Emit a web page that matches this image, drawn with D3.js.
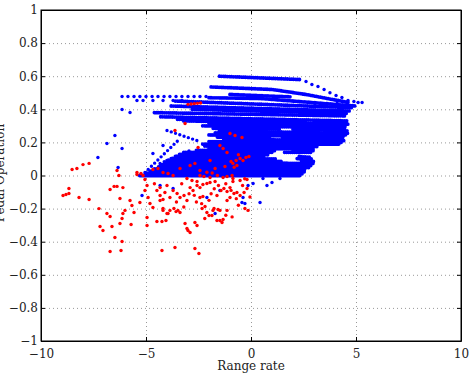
<!DOCTYPE html>
<html>
<head>
<meta charset="utf-8">
<script src="https://cdn.jsdelivr.net/npm/d3@7"></script>
<style>
body { margin: 0; background: #fff; }
text { font-family: "DejaVu Serif", "Liberation Serif", serif; fill: #222; }
</style>
</head>
<body>
<div class="canva"></div>
<script>
const xTicks = [-10, -5, 0, 5, 10]
const yTicks = [-1, -0.8, -0.6, -0.4, -0.2, 0, 0.2, 0.4, 0.6, 0.8, 1]

// dense blue runs (point trails that merge together)
const denseStreaks = [
  [[-1.5, 0.60], [2.33, 0.58]],
  [[-1.9, 0.535], [1.0, 0.52], [2.6, 0.49], [4.7, 0.44]],
  [[-1.0, 0.49], [1.9, 0.475]],
  [[-2.0, 0.47], [0.5, 0.465], [3.0, 0.44], [5.0, 0.42]],
  [[-3.6, 0.45], [4.8, 0.41]],
  [[-3.8, 0.42], [4.7, 0.39]],
  [[-2.8, 0.40], [4.6, 0.375]],
  [[-4.6, 0.38], [4.5, 0.36]],
  [[-4.3, 0.355], [4.6, 0.33]],
  [[-3.5, 0.34], [2.6, 0.325]],
  [[3.1, 0.325], [4.6, 0.32]],
  [[-3.2, 0.33], [4.7, 0.31]],
  [[-2.0, 0.315], [4.5, 0.30]],
  [[-2.3, 0.30], [4.5, 0.29]],
  [[-1.8, 0.285], [1.4, 0.28]],
  [[2.0, 0.28], [4.6, 0.27]],
  [[-1.5, 0.27], [4.6, 0.255]],
  [[-1.7, 0.258], [4.5, 0.245]],
  [[-2.0, 0.245], [4.4, 0.235]],
  [[-1.6, 0.232], [0.9, 0.228]],
  [[1.5, 0.228], [4.4, 0.222]],
  [[-1.3, 0.22], [4.5, 0.21]],
  [[-2.0, 0.205], [4.3, 0.20]],
  [[-2.3, 0.19], [4.2, 0.19]],
  [[-2.2, 0.178], [3.2, 0.175]],
  [[-2.0, 0.165], [3.0, 0.16]],
  [[-2.6, 0.152], [1.2, 0.15]],
  [[2.0, 0.152], [3.0, 0.15]],
  [[-3.2, 0.14], [1.0, 0.14]],
  [[1.6, 0.14], [2.9, 0.14]],
  [[-3.4, 0.128], [0.8, 0.125]],
  [[-3.6, 0.115], [0.6, 0.11]],
  [[2.3, 0.115], [2.8, 0.11]],
  [[-3.8, 0.102], [1.2, 0.10]],
  [[2.2, 0.102], [2.9, 0.10]],
  [[-4.0, 0.09], [1.5, 0.085]],
  [[2.4, 0.09], [3.0, 0.085]],
  [[-4.1, 0.078], [3.0, 0.073]],
  [[-4.3, 0.065], [2.9, 0.06]],
  [[-4.4, 0.052], [2.8, 0.048]],
  [[-4.6, 0.04], [2.6, 0.035]],
  [[-4.8, 0.027], [2.6, 0.022]],
  [[-5.0, 0.015], [2.5, 0.01]],
  [[-5.3, 0.0], [2.4, 0.0]]
]

// loose blue runs (separate dots still visible)
const looseStreaks = [
  [[-4.0, 0.272], [-2.43, 0.205]],
  [[-5.05, 0.018], [-3.48, 0.211]],
  [[-4.33, 0.073], [-2.9, 0.151]]
]

const bluePoints = [
  [-6.14, 0.477], [-5.86, 0.477], [-5.57, 0.477], [-5.29, 0.477], [-5.0, 0.477],
  [-4.71, 0.477], [-4.43, 0.477], [-4.14, 0.477], [-3.86, 0.477], [-3.57, 0.477],
  [-3.29, 0.477], [-3.0, 0.477], [-2.71, 0.477], [-2.43, 0.477], [-2.14, 0.477],
  [-5.43, 0.453], [-5.14, 0.453], [-4.67, 0.453], [-4.19, 0.453], [-3.71, 0.453], [-3.29, 0.453],
  [2.62, 0.568], [2.9, 0.55], [3.19, 0.538], [3.48, 0.52], [3.76, 0.50], [4.05, 0.483],
  [4.33, 0.471], [4.62, 0.453], [4.9, 0.447], [5.1, 0.441], [5.29, 0.441],
  [3.05, 0.435], [3.62, 0.435], [4.1, 0.435],
  [-6.48, 0.242], [-6.86, 0.193], [-7.29, 0.109], [-6.33, 0.048], [-6.14, 0.163],
  [-4.67, 0.133], [-4.19, 0.181], [-6.14, 0.399], [-5.76, 0.381],
  [-5.19, -0.121], [-4.33, -0.06], [-3.71, -0.079], [-2.1, -0.133], [-1.71, -0.23],
  [-1.48, -0.091], [-0.38, -0.133], [-0.43, -0.163], [-0.29, -0.169], [-0.14, -0.06],
  [0.1, -0.048], [0.43, -0.163], [0.76, -0.06], [1.0, -0.042], [0.57, -0.018], [1.38, -0.018]
]

const redPoints = [
  [-8.52, 0.036], [-8.29, 0.042], [-8.0, 0.066], [-7.71, 0.073], [-8.95, -0.121],
  [-8.81, -0.115], [-8.67, -0.109], [-8.67, -0.079], [-8.19, -0.133], [-7.71, -0.145],
  [-7.24, -0.2], [-6.86, -0.23], [-6.71, -0.248], [-7.19, -0.308], [-7.05, -0.332],
  [-6.62, -0.308], [-6.48, -0.375], [-6.14, -0.399], [-6.71, -0.459], [-6.19, -0.453],
  [-6.71, -0.085], [-6.52, -0.066], [-6.38, -0.066], [-6.1, -0.073], [-6.29, 0.0],
  [-6.38, 0.03], [-6.24, -0.139], [-5.76, -0.151], [-5.67, -0.181], [-6.0, -0.211],
  [-6.1, -0.23], [-6.14, -0.26], [-6.24, -0.29], [-5.71, -0.296], [-5.57, -0.224],
  [-5.43, 0.018], [-5.24, 0.012], [-5.05, -0.024], [-4.95, -0.06], [-5.29, -0.163],
  [-5.05, -0.091], [-4.9, -0.133], [-4.81, -0.169], [-4.67, -0.193], [-4.95, -0.254],
  [-4.95, -0.302], [-4.48, -0.091], [-4.33, -0.121], [-4.19, -0.145], [-4.33, -0.151],
  [-4.19, -0.199], [-4.0, -0.23], [-4.48, -0.278], [-4.24, -0.278], [-4.05, -0.272],
  [-4.24, -0.453], [-3.86, -0.211], [-3.67, -0.199], [-3.48, -0.211], [-3.62, -0.435],
  [-3.71, -0.091], [-3.52, -0.109], [-3.38, -0.133], [-3.19, -0.121], [-3.05, -0.151],
  [-2.9, -0.073], [-2.76, -0.091], [-2.57, -0.06], [-2.43, -0.073], [-2.29, -0.054],
  [-2.1, -0.048], [-1.95, -0.042], [-3.05, -0.32], [-2.9, -0.344], [-2.67, -0.284],
  [-2.57, -0.302], [-2.67, -0.441], [-2.48, -0.471], [-2.33, -0.199], [-2.19, -0.187],
  [-2.1, -0.224], [-2.0, -0.242], [-1.86, -0.242], [-1.76, -0.199], [-1.57, -0.205],
  [-1.48, -0.272], [-1.33, -0.266], [-2.43, -0.133], [-2.29, -0.127], [-1.62, -0.121],
  [-1.43, -0.091], [-1.29, -0.079], [-1.14, -0.097], [-1.0, -0.073], [-1.14, -0.151],
  [-1.0, -0.133], [-0.81, -0.109], [-0.67, -0.103], [-0.52, -0.121], [-0.33, -0.103],
  [-0.19, -0.079], [-0.29, -0.199], [-0.14, -0.211], [-1.33, -0.012], [-1.14, -0.006],
  [-0.86, -0.018], [-0.52, -0.03], [-0.19, -0.024], [-2.43, 0.0], [-2.24, -0.006],
  [-1.95, -0.012], [-3.05, -0.018], [-2.81, -0.03], [-2.57, -0.036], [-1.71, -0.036],
  [-0.86, -0.036], [-4.33, -0.073], [-4.1, -0.103], [-3.86, -0.133], [-4.19, -0.211],
  [-3.95, -0.23], [-3.57, -0.218], [-3.38, -0.224], [-3.14, -0.29], [-3.0, -0.332],
  [-1.81, -0.211], [-1.48, -0.211], [-1.14, -0.211], [-1.62, -0.272], [-1.38, -0.284],
  [-2.95, -0.11], [-2.7, -0.12], [-2.6, -0.16], [-2.35, -0.17], [-2.0, -0.15],
  [-1.9, -0.11], [-1.75, -0.08], [-1.55, -0.06], [-1.2, -0.05], [-0.95, -0.09],
  [-0.7, -0.14], [-0.6, -0.18], [-0.4, -0.06], [-0.05, -0.13], [-1.2, -0.24],
  [-0.9, -0.25], [-2.2, -0.26], [-3.3, -0.05], [-3.55, -0.16], [-3.2, -0.19],
  [-4.6, -0.05], [-4.0, -0.06], [-0.3, -0.02], [-0.9, 0.0], [-1.6, 0.0],
  [-3.62, 0.272], [-3.14, 0.314], [-5.43, 0.006], [-5.14, 0.0], [-4.67, 0.036],
  [-4.43, 0.042], [-4.19, 0.018], [-3.95, 0.012], [-3.71, 0.0], [-2.9, 0.06],
  [-2.67, 0.073], [-2.43, 0.03], [-1.95, 0.091], [-2.52, 0.169], [-1.48, 0.181],
  [-1.33, 0.163], [-1.14, 0.139], [-1.0, 0.254], [-0.76, 0.242], [-0.43, 0.23],
  [-0.86, 0.073], [-0.71, 0.091], [-0.52, 0.103], [-0.38, 0.091], [-0.24, 0.109],
  [-0.1, 0.115], [-0.67, 0.06], [-3.38, 0.042], [-1.71, 0.042], [-1.24, 0.054],
  [-0.95, 0.085], [-0.6, 0.125], [-0.8, 0.05], [-2.1, 0.02], [-1.85, 0.015],
  [-3.0, 0.43], [-2.85, 0.432], [-2.7, 0.434], [-2.55, 0.436], [-2.4, 0.438]
]

const canvas = d3.select('.canva')
const svg = canvas.append('svg').attr('width', 469).attr('height', 378)

const x = d3.scaleLinear().domain([-10, 10]).range([41, 461])
const y = d3.scaleLinear().domain([-1, 1]).range([341, 10])
const fmt = d => String(+d.toFixed(1)).replace('-', '\u2212')

// grid
const grid = svg.append('g').attr('stroke', '#999').attr('stroke-dasharray', '1,3').attr('stroke-width', 1)
grid.selectAll('.gx').data(xTicks.slice(1, -1)).enter().append('line')
  .attr('x1', d => x(d) + 0.5).attr('x2', d => x(d) + 0.5)
  .attr('y1', y(1)).attr('y2', y(-1))
grid.selectAll('.gy').data(yTicks.slice(1, -1)).enter().append('line')
  .attr('y1', d => y(d) + 0.5).attr('y2', d => y(d) + 0.5)
  .attr('x1', x(-10)).attr('x2', x(10))

// blue
const line = d3.line().x(d => x(d[0])).y(d => y(d[1]))
svg.append('g').selectAll('path').data(denseStreaks).enter().append('path')
  .attr('d', line).attr('fill', 'none').attr('stroke', '#0000ff')
  .attr('stroke-width', 3.8).attr('stroke-linecap', 'round')
  .attr('stroke-dasharray', '0,2')
svg.append('g').selectAll('path').data(looseStreaks).enter().append('path')
  .attr('d', line).attr('fill', 'none').attr('stroke', '#0000ff')
  .attr('stroke-width', 3.4).attr('stroke-linecap', 'round')
  .attr('stroke-dasharray', '0,4.5')
svg.append('g').selectAll('circle').data(bluePoints).enter().append('circle')
  .attr('cx', d => x(d[0])).attr('cy', d => y(d[1])).attr('r', 1.7).attr('fill', '#0000ff')

// red
svg.append('g').selectAll('circle').data(redPoints).enter().append('circle')
  .attr('cx', d => x(d[0])).attr('cy', d => y(d[1])).attr('r', 1.7).attr('fill', '#ff0000')

// axes
const ax = svg.append('g')
ax.append('g').attr('transform', 'translate(0,341)')
  .call(d3.axisBottom(x).tickValues(xTicks).tickSizeInner(-4).tickSizeOuter(0).tickPadding(8).tickFormat(fmt))
ax.append('g').attr('transform', 'translate(41,0)')
  .call(d3.axisLeft(y).tickValues(yTicks).tickSizeInner(-4).tickSizeOuter(0).tickPadding(3).tickFormat(fmt))
ax.append('g').attr('transform', 'translate(0,10)')
  .call(d3.axisTop(x).tickValues(xTicks).tickSizeInner(-4).tickSizeOuter(0).tickFormat(''))
ax.append('g').attr('transform', 'translate(461,0)')
  .call(d3.axisRight(y).tickValues(yTicks).tickSizeInner(-4).tickSizeOuter(0).tickFormat(''))
ax.selectAll('text').style('font-family', '"DejaVu Serif", serif').style('font-size', '12px').attr('fill', '#222')
ax.selectAll('.domain').attr('stroke', '#000')

svg.append('rect').attr('x', 41).attr('y', 10).attr('width', 420).attr('height', 331)
  .attr('fill', 'none').attr('stroke', '#000').attr('stroke-width', 1)

svg.append('text').text('Range rate').attr('x', 251).attr('y', 370)
  .attr('text-anchor', 'middle').style('font-size', '12px')
svg.append('text').text('Pedal Operation')
  .attr('transform', 'translate(4,173) rotate(-90)')
  .attr('text-anchor', 'middle').style('font-size', '12px')
</script>
</body>
</html>
